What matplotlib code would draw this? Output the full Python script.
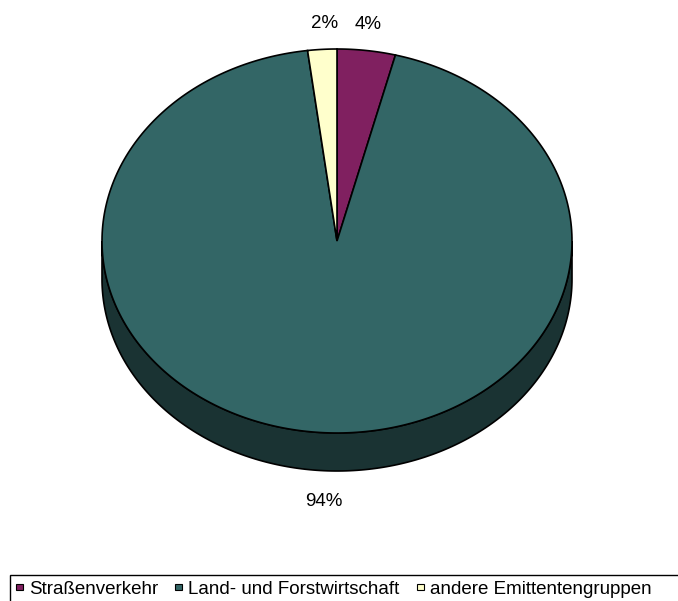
import numpy as np
import matplotlib.pyplot as plt
from matplotlib.patches import Polygon, Rectangle

plt.rcParams['font.family'] = ['Liberation Sans', 'DejaVu Sans']

kategorien = ["Straßenverkehr", "Land- und Forstwirtschaft", "andere Emittentengruppen"]
anteile = [4, 94, 2]
beschriftung = ["4%", "94%", "2%"]
farben = ["#802060", "#336666", "#FFFFCC"]
seitenfarben = ["#401030", "#1A3333", "#808066"]

# Geometrie der Torte (Pixel)
cx, cy = 337, 241
rx, ry = 235, 192
tiefe = 38


def punkt(theta, dy=0):
    # theta im Uhrzeigersinn ab 12 Uhr, in Grad
    t = np.radians(theta)
    return cx + rx * np.sin(t), cy - ry * np.cos(t) + dy


fig = plt.figure(figsize=(6.78, 6.01), dpi=100)
ax = fig.add_axes([0, 0, 1, 1])
ax.set_xlim(0, 678)
ax.set_ylim(601, 0)
ax.axis('off')

grenzen = np.concatenate([[0], np.cumsum(anteile)]) / sum(anteile) * 360

# Seitenflaechen (nur vorne sichtbar: 90..270 Grad)
for i in range(len(anteile)):
    a0 = max(grenzen[i], 90)
    a1 = min(grenzen[i + 1], 270)
    if a1 <= a0:
        continue
    th = np.linspace(a0, a1, 200)
    oben = [punkt(t) for t in th]
    unten = [punkt(t, tiefe) for t in th[::-1]]
    ax.add_patch(Polygon(oben + unten, closed=True, facecolor=seitenfarben[i],
                         edgecolor='black', linewidth=1.2))

# Deckflaeche
for i in range(len(anteile)):
    th = np.linspace(grenzen[i], grenzen[i + 1], 300)
    pts = [(cx, cy)] + [punkt(t) for t in th]
    ax.add_patch(Polygon(pts, closed=True, facecolor=farben[i],
                         edgecolor='black', linewidth=1.2, joinstyle='miter'))

# Prozentbeschriftung
for i in range(len(anteile)):
    mitte = (grenzen[i] + grenzen[i + 1]) / 2
    t = np.radians(mitte)
    lx = cx + rx * np.sin(t) + 2
    ly = cy - (ry + 26) * np.cos(t)
    if np.cos(t) < 0:
        ly += tiefe + 5
    ax.text(lx, ly, beschriftung[i], fontsize=13.5, ha='center', va='center')

# Legende
ax.add_patch(Rectangle((10, 575), 700, 30, facecolor='white', edgecolor='black',
                       linewidth=1, clip_on=False))
lx_pos = [16, 175, 417]
for i, name in enumerate(kategorien):
    ax.add_patch(Rectangle((lx_pos[i], 584), 7, 6, facecolor=farben[i],
                           edgecolor='black', linewidth=0.8))
    ax.text(lx_pos[i] + 13, 590, name, fontsize=13.5, ha='left', va='center')

fig.savefig('out.png', dpi=100)
